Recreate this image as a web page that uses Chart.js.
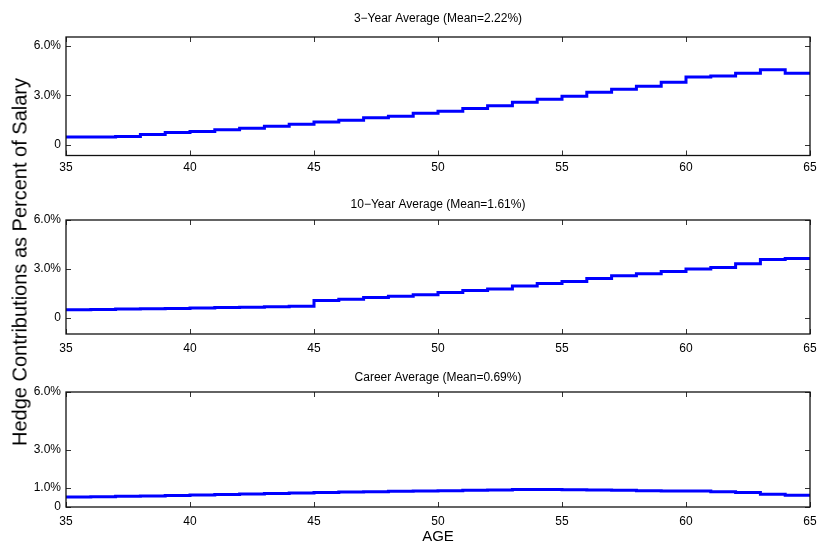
<!DOCTYPE html>
<html>
<head>
<meta charset="utf-8">
<title>Hedge Contributions as Percent of Salary</title>
<script src="https://cdn.jsdelivr.net/npm/chart.js@4.4.1/dist/chart.umd.min.js"></script>
<style>
  html, body { margin: 0; padding: 0; background: #fff; }
  #wrap { position: relative; width: 817px; height: 546px; overflow: hidden; }
  #wrap canvas { position: absolute; left: 0; }
  #y-title {
    position: absolute; left: 20px; top: 262px;
    transform: translate(-50%, -50%) rotate(-90deg);
    font: 20px "Liberation Sans", Arial, sans-serif; color: #000;
    white-space: nowrap;
  }
</style>
</head>
<body>
<div id="wrap">
  <canvas id="c-avg3"   width="817" height="176" style="top:0px"></canvas>
  <canvas id="c-avg10"  width="817" height="170" style="top:186px"></canvas>
  <canvas id="c-career" width="817" height="186" style="top:360px"></canvas>
  <div id="y-title">Hedge Contributions as Percent of Salary</div>
</div>
<script>
'use strict';

// ── Data (percent of salary, held from each age to the next) ────────────────
const AGES = [35, 36, 37, 38, 39, 40, 41, 42, 43, 44, 45, 46, 47, 48, 49,
              50, 51, 52, 53, 54, 55, 56, 57, 58, 59, 60, 61, 62, 63, 64];
const LAST_AGE = 65;

const AVG3_PCT = [0.47, 0.48, 0.50, 0.63, 0.75, 0.81, 0.91, 1.01, 1.13, 1.25,
                  1.39, 1.49, 1.64, 1.74, 1.92, 2.04, 2.20, 2.38, 2.59, 2.77,
                  2.95, 3.19, 3.37, 3.56, 3.80, 4.12, 4.18, 4.34, 4.56, 4.34];

const AVG10_PCT = [0.49, 0.51, 0.53, 0.55, 0.57, 0.60, 0.62, 0.64, 0.67, 0.70,
                   1.05, 1.13, 1.24, 1.32, 1.41, 1.55, 1.67, 1.77, 1.94, 2.10,
                   2.22, 2.41, 2.57, 2.70, 2.84, 2.99, 3.09, 3.31, 3.58, 3.64];

const CAREER_PCT = [0.52, 0.54, 0.56, 0.58, 0.60, 0.62, 0.65, 0.68, 0.70, 0.73,
                    0.76, 0.78, 0.80, 0.82, 0.84, 0.85, 0.87, 0.89, 0.91, 0.91,
                    0.90, 0.89, 0.88, 0.85, 0.84, 0.83, 0.79, 0.76, 0.66, 0.61];

const TITLES = [
  '3\u2212Year Average (Mean=2.22%)',
  '10\u2212Year Average (Mean=1.61%)',
  'Career Average (Mean=0.69%)',
];

const X_TICKS        = [35, 40, 45, 50, 55, 60, 65];
const Y_TICKS_AVG3   = [0, 3, 6];
const Y_TICKS_AVG10  = [0, 3, 6];
const Y_TICKS_CAREER = [0, 1, 3, 6];

(function () {
  // ── Constants ──────────────────────────────────────────────────────────────
  const FONT      = '"Liberation Sans", Arial, Helvetica, sans-serif';
  const LINE_BLUE = '#0000ff';
  const TICK_LEN  = 5;

  Chart.defaults.font.family = FONT;
  Chart.defaults.color = '#000';

  /** Stepped series: one point per age plus a closing point at 65. */
  function toPoints(values) {
    const pts = AGES.map(function (a, i) { return { x: a, y: values[i] }; });
    pts.push({ x: LAST_AGE, y: values[values.length - 1] });
    return pts;
  }

  function pctLabel(v) {
    return v === 0 ? '0' : v.toFixed(1) + '%';
  }

  // MATLAB-style box with inward ticks on all four sides, title over the plot
  const boxPlugin = {
    id: 'matlabBox',
    afterDraw: function (chart, _args, opts) {
      const ctx = chart.ctx;
      const a = chart.chartArea;
      const xs = chart.scales.x;
      const ys = chart.scales.y;
      ctx.save();
      ctx.strokeStyle = '#333';
      ctx.lineWidth = 1;
      ctx.beginPath();
      xs.ticks.forEach(function (t) {
        const px = Math.round(xs.getPixelForValue(t.value)) + 0.5;
        ctx.moveTo(px, a.bottom); ctx.lineTo(px, a.bottom - TICK_LEN);
        ctx.moveTo(px, a.top);    ctx.lineTo(px, a.top + TICK_LEN);
      });
      ys.ticks.forEach(function (t) {
        const py = Math.round(ys.getPixelForValue(t.value)) + 0.5;
        ctx.moveTo(a.left, py);  ctx.lineTo(a.left + TICK_LEN, py);
        ctx.moveTo(a.right, py); ctx.lineTo(a.right - TICK_LEN, py);
      });
      ctx.stroke();
      ctx.strokeStyle = '#111';
      ctx.lineWidth = 1.3;
      ctx.strokeRect(a.left, a.top, a.right - a.left, a.bottom - a.top);

      // title centred over the plot box (MATLAB style)
      ctx.fillStyle = '#000';
      ctx.font = '12px ' + FONT;
      ctx.textAlign = 'center';
      ctx.textBaseline = 'middle';
      ctx.fillText(opts.text, (a.left + a.right) / 2, opts.y);
      ctx.restore();
    },
  };

  /**
   * Build one panel.
   * geo: plot top offset, title y, x-axis block height, y range.
   */
  function makePanel(id, title, values, yTicks, geo) {
    const canvas = document.getElementById(id);
    return new Chart(canvas, {
      type: 'line',
      data: {
        datasets: [{
          data: toPoints(values),
          borderColor: LINE_BLUE,
          borderWidth: 3,
          pointRadius: 0,
          stepped: 'before',
          fill: false,
        }],
      },
      options: {
        responsive: false,
        animation: false,
        events: [],
        layout: { padding: { left: 0, right: 7, top: geo.plotTop, bottom: 0 } },
        plugins: {
          legend: { display: false },
          tooltip: { enabled: false },
          title: { display: false },
          matlabBox: { text: title, y: geo.titleY },
        },
        scales: {
          x: {
            type: 'linear',
            min: 35,
            max: 65,
            grid: { display: false, drawTicks: false },
            border: { display: false },
            afterBuildTicks: function (axis) {
              axis.ticks = X_TICKS.map(function (v) { return { value: v }; });
            },
            afterFit: function (axis) {
              axis.height = geo.xHeight;
              // keep the box edges fixed; end labels may overhang
              axis.paddingLeft = 0;
              axis.paddingRight = 0;
            },
            ticks: {
              autoSkip: false,
              maxRotation: 0,
              padding: geo.xPad,
              font: { size: 12 },
              color: '#000',
            },
            title: geo.xTitle ? {
              display: true,
              text: 'AGE',
              font: { size: 15 },
              color: '#000',
              padding: { top: 0, bottom: 0 },
            } : { display: false },
          },
          y: {
            min: geo.yMin,
            max: geo.yMax,
            grid: { display: false, drawTicks: false },
            border: { display: false },
            afterBuildTicks: function (axis) {
              axis.ticks = yTicks.map(function (v) { return { value: v }; });
            },
            afterFit: function (axis) {
              axis.width = 66;
              axis.paddingTop = 0;
              axis.paddingBottom = 0;
            },
            ticks: {
              padding: 5,
              font: { size: 12 },
              color: '#000',
              callback: function (v) { return pctLabel(v); },
            },
          },
        },
      },
      plugins: [boxPlugin],
    });
  }

  function init() {
    makePanel('c-avg3', TITLES[0], AVG3_PCT, Y_TICKS_AVG3, {
      plotTop: 37, titleY: 19, xHeight: 20.5, xPad: 5, yMin: -0.65, yMax: 6.55,
    });
    makePanel('c-avg10', TITLES[1], AVG10_PCT, Y_TICKS_AVG10, {
      plotTop: 34, titleY: 19, xHeight: 22, xPad: 7, yMin: -1, yMax: 6,
    });
    makePanel('c-career', TITLES[2], CAREER_PCT, Y_TICKS_CAREER, {
      plotTop: 32, titleY: 18, xHeight: 39, xPad: 7, yMin: 0, yMax: 6, xTitle: true,
    });
  }

  init();
})();
</script>
</body>
</html>
